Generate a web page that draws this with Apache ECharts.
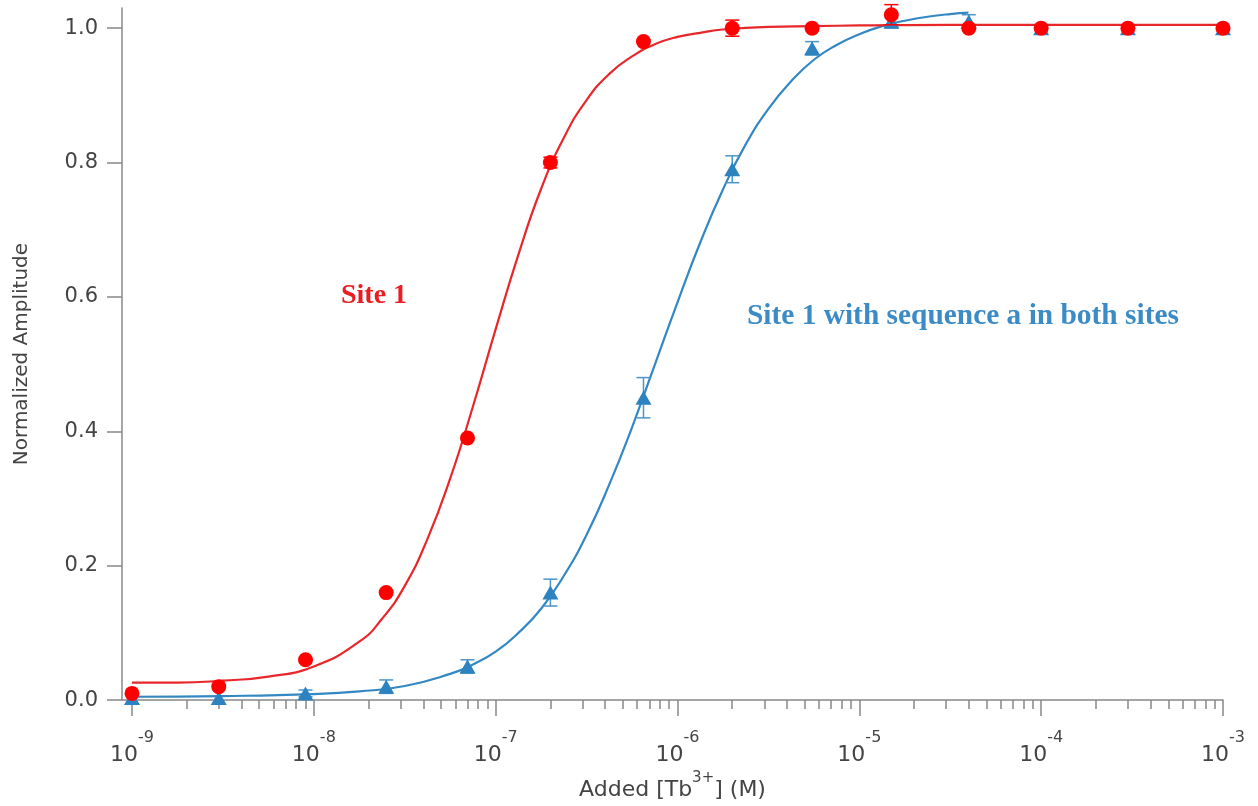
<!DOCTYPE html>
<html>
<head>
<meta charset="utf-8">
<script src="https://cdn.jsdelivr.net/npm/echarts@6/dist/echarts.min.js"></script>
<style>
html,body{margin:0;padding:0;background:#fff;}
#chart{width:1258px;height:806px;}
</style>
</head>
<body>
<div id="chart"></div>
<script>
// ---- Data (concentrations in M) ----
const concentrations = [1e-9, 3e-9, 9e-9, 2.5e-8, 7e-8, 2e-7, 6.5e-7, 2e-6, 5.5e-6, 1.5e-5, 4e-5, 1e-4, 3e-4, 1e-3];
const site1Values  = [0.01, 0.02, 0.06, 0.16, 0.39, 0.80, 0.98, 1.00, 1.00, 1.02, 1.00, 1.00, 1.00, 1.00];
const site1Errors  = [0, 0, 0, 0, 0, 0.008, 0, 0.012, 0, 0.015, 0, 0, 0, 0];
const seqAValues   = [0.003, 0.003, 0.01, 0.02, 0.05, 0.16, 0.45, 0.79, 0.97, 1.01, 1.01, 1.00, 1.00, 1.00];
const seqAErrors   = [0, 0, 0.005, 0.01, 0.01, 0.02, 0.03, 0.02, 0.01, 0.01, 0.01, 0, 0, 0];

// fitted curves (x as log10 of concentration)
const site1FitLogX = [-9, -8.75, -8.5, -8.25, -8, -7.75, -7.625, -7.5, -7.375, -7.25, -7.125, -7, -6.875, -6.75, -6.625, -6.5, -6.375, -6.25, -6.125, -6, -5.875, -5.75, -5.5, -5.25, -5, -4.5, -4, -3.5, -3];
const site1FitValues = [0.026, 0.026, 0.029, 0.035, 0.050, 0.087, 0.121, 0.170, 0.240, 0.330, 0.437, 0.552, 0.663, 0.761, 0.837, 0.893, 0.932, 0.958, 0.976, 0.987, 0.993, 0.998, 1.002, 1.003, 1.004, 1.005, 1.005, 1.005, 1.005];
const seqAFitLogX = [-9, -8.5, -8, -7.75, -7.5, -7.25, -7.125, -7, -6.875, -6.75, -6.625, -6.5, -6.375, -6.25, -6.125, -6, -5.875, -5.75, -5.625, -5.5, -5.375, -5.25, -5.125, -5, -4.875, -4.75, -4.625, -4.5, -4.4];
const seqAFitValues = [0.005, 0.006, 0.009, 0.013, 0.021, 0.039, 0.053, 0.072, 0.100, 0.136, 0.185, 0.246, 0.321, 0.406, 0.499, 0.592, 0.681, 0.760, 0.827, 0.880, 0.921, 0.953, 0.975, 0.991, 1.003, 1.011, 1.017, 1.021, 1.023];

const xMajorExponents = [-9, -8, -7, -6, -5, -4, -3];
const yTickValues = [0, 0.2, 0.4, 0.6, 0.8, 1.0];

// ---- build ----
const minorTicks = [];
for (let e = -9; e < -3; e++) {
  for (let k = 2; k <= 9; k++) minorTicks.push(e + Math.log10(k));
}
const lx = c => Math.log10(c);
const site1Pts = concentrations.map((c, i) => [lx(c), site1Values[i]]);
const seqAPts = concentrations.map((c, i) => [lx(c), seqAValues[i]]);
const site1Err = concentrations.map((c, i) => [lx(c), site1Values[i] - site1Errors[i], site1Values[i] + site1Errors[i]]).filter((d, i) => site1Errors[i] > 0);
const seqAErr = concentrations.map((c, i) => [lx(c), seqAValues[i] - seqAErrors[i], seqAValues[i] + seqAErrors[i]]).filter((d, i) => seqAErrors[i] > 0);

const RED = '#ff0000', REDLINE = '#e8272b', BLUE = '#2d82c0', BLUELINE = '#3388c4', ERRBLUE = '#4b95c9';
const AXIS = '#888', TXT = '#444';
const FONT = 'DejaVu Sans';

function errRender(color, capW) {
  return function (params, api) {
    const x = api.value(0);
    const p1 = api.coord([x, api.value(1)]);
    const p2 = api.coord([x, api.value(2)]);
    const st = { stroke: color, lineWidth: 1.5 };
    return {
      type: 'group',
      children: [
        { type: 'line', shape: { x1: p1[0], y1: p1[1], x2: p2[0], y2: p2[1] }, style: st },
        { type: 'line', shape: { x1: p1[0] - capW, y1: p1[1], x2: p1[0] + capW, y2: p1[1] }, style: st },
        { type: 'line', shape: { x1: p2[0] - capW, y1: p2[1], x2: p2[0] + capW, y2: p2[1] }, style: st }
      ]
    };
  };
}

const chart = echarts.init(document.getElementById('chart'), null, { renderer: 'canvas' });
chart.setOption({
  animation: false,
  backgroundColor: '#fff',
  grid: { left: 122, right: 35, top: 8, bottom: 105, containLabel: false },
  xAxis: [{
    type: 'value', min: -9.055, max: -3, position: 'bottom',
    splitLine: { show: false },
    axisLine: { show: true, lineStyle: { color: AXIS, width: 1.5 } },
    axisTick: { show: true, customValues: xMajorExponents, length: 16, lineStyle: { color: AXIS, width: 1.5 } },
    axisLabel: {
      show: true, customValues: xMajorExponents, margin: 30,
      formatter: v => '{b|10}{s|' + Math.round(v) + '}',
      rich: {
        b: { fontFamily: FONT, fontSize: 22, color: TXT, lineHeight: 36, verticalAlign: 'bottom' },
        s: { fontFamily: FONT, fontSize: 16, color: TXT, lineHeight: 16, verticalAlign: 'top' }
      }
    },
    name: '{n|Added [Tb}{s|3+}{n|] (M)}',
    nameLocation: 'middle', nameGap: 69,
    nameTextStyle: {
      rich: {
        n: { fontFamily: FONT, fontSize: 22, color: TXT, lineHeight: 30, verticalAlign: 'bottom' },
        s: { fontFamily: FONT, fontSize: 15, color: TXT, lineHeight: 15, verticalAlign: 'top' }
      }
    }
  }, {
    type: 'value', min: -9.055, max: -3, position: 'bottom',
    splitLine: { show: false },
    axisLine: { show: false },
    axisLabel: { show: false },
    axisTick: { show: true, customValues: minorTicks, length: 9, lineStyle: { color: AXIS, width: 1.5 } }
  }],
  yAxis: {
    type: 'value', min: 0, max: 1.03,
    splitLine: { show: false },
    axisLine: { show: true, lineStyle: { color: AXIS, width: 1.5 } },
    axisTick: { show: true, customValues: yTickValues, length: 15, lineStyle: { color: AXIS, width: 1.5 } },
    axisLabel: {
      customValues: yTickValues, margin: 24,
      formatter: v => v.toFixed(1),
      fontFamily: FONT, fontSize: 21, color: TXT
    },
    name: 'Normalized Amplitude', nameLocation: 'middle', nameGap: 90,
    nameTextStyle: { fontFamily: FONT, fontSize: 20, color: TXT }
  },
  graphic: [
    { type: 'text', left: 341, top: 282, style: { text: 'Site 1', font: 'bold 28px "Liberation Serif"', fill: '#ec1c24' } },
    { type: 'text', left: 747, top: 302, style: { text: 'Site 1 with sequence a in both sites', font: 'bold 29.4px "Liberation Serif"', fill: '#3b8bc6' } }
  ],
  series: [
    { type: 'line', name: 'seqAFit', data: seqAFitLogX.map((x, i) => [x, seqAFitValues[i]]), showSymbol: false, smooth: 0.5, lineStyle: { color: BLUELINE, width: 2.2 }, z: 2 },
    { type: 'line', name: 'site1Fit', data: site1FitLogX.map((x, i) => [x, site1FitValues[i]]), showSymbol: false, smooth: 0.5, lineStyle: { color: REDLINE, width: 2.2 }, z: 3 },
    { type: 'custom', name: 'seqAErr', data: seqAErr, renderItem: errRender(ERRBLUE, 7), z: 4 },
    { type: 'scatter', name: 'seqA', data: seqAPts, symbol: 'triangle', symbolSize: [16, 14], itemStyle: { color: BLUE, opacity: 1 }, z: 5 },
    { type: 'custom', name: 'site1Err', data: site1Err, renderItem: errRender(RED, 7), z: 6 },
    { type: 'scatter', name: 'site1', data: site1Pts, symbol: 'circle', symbolSize: 15, itemStyle: { color: RED, opacity: 1 }, z: 7 }
  ]
});
</script>
</body>
</html>
